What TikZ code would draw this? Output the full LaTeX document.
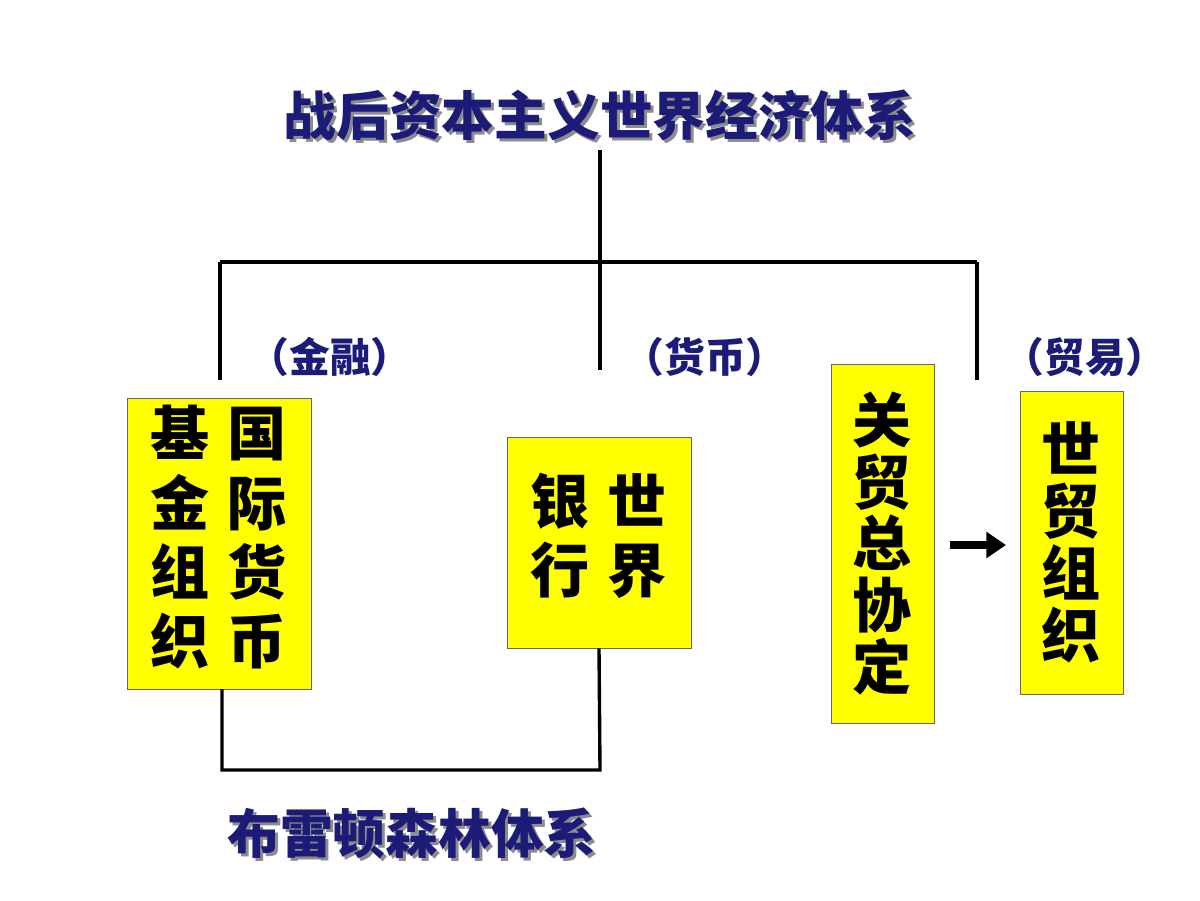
\documentclass[tikz,border=0pt]{standalone}
\usepackage{fontspec}
\newfontfamily\cjk{Noto Sans CJK SC}
\usetikzlibrary{positioning,arrows.meta}
\definecolor{navy}{RGB}{28,28,120}
\definecolor{boxyellow}{RGB}{255,255,0}
\tikzset{
  title/.style={font=\cjk\bfseries\fontsize{37.5}{40}\selectfont,text=navy},
  shade/.style={font=\cjk\bfseries\fontsize{37.5}{40}\selectfont,text=black!45},
  branch/.style={font=\cjk\bfseries\fontsize{29}{32}\selectfont,text=navy},
  org/.style={draw=black!60,fill=boxyellow,font=\cjk\bfseries\fontsize{42}{44}\selectfont,
    align=center,inner sep=0pt},
  link/.style={line width=2.4pt},
}
\begin{document}
\begin{tikzpicture}[x=0.025cm,y=-0.025cm]
  \useasboundingbox (0,0) rectangle (1200,900);

  \node [shade] at (603,118) {战后资本主义世界经济体系};
  \node [title] (top) at (600,115) {战后资本主义世界经济体系};
  \node [shade] at (415,836) {布雷顿森林体系};
  \node [title] (bw) at (412,833) {布雷顿森林体系};

  \node [branch] (fin) at (330,357) {（金融）};
  \node [branch] (cur) at (705,357) {（货币）};
  \node [branch] (tra) at (1085,357) {（贸易）};

  \node [org,minimum width=4.6cm,minimum height=7.275cm] (imf) at (219,543.5)
    {\begin{tabular}{@{}c@{\hspace{0.45cm}}c@{}}基&国\\金&际\\组&货\\织&币\end{tabular}};
  \node [org,minimum width=4.6cm,minimum height=5.275cm] (wb) at (599,542.5)
    {\begin{tabular}{@{}c@{\hspace{0.45cm}}c@{}}银&世\\行&界\end{tabular}};
  \node [org,minimum width=2.575cm,minimum height=8.975cm] (gatt) at (882.5,543.5)
    {关\\贸\\总\\协\\定};
  \node [org,minimum width=2.575cm,minimum height=7.575cm] (wto) at (1071.5,542.5)
    {世\\贸\\组\\织};

  \coordinate (hub) at (600,262);
  \coordinate (hl) at (220,262);
  \coordinate (hr) at (977,262);
  \draw [link] (600,150) -- (hub);
  \draw [link] (hl) -- (hr);
  \draw [link] (hl) -- (220,380);
  \draw [link] (hub) -- (600,370);
  \draw [link] (hr) -- (977,380);

  \draw [link] (222,689) |- (600,770) -- (wb.south);

  \draw [-{Triangle[length=14pt,width=18pt]},line width=5pt] (950,545) -- (1006,545);
\end{tikzpicture}
\end{document}
